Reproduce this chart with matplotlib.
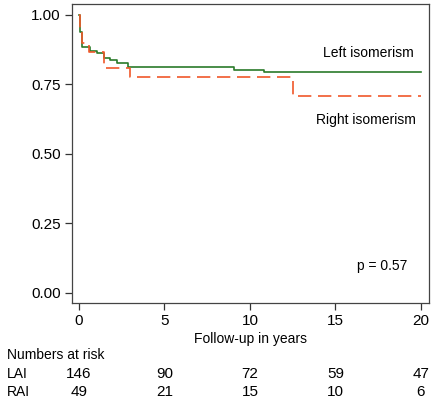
import numpy as np
import matplotlib
matplotlib.use("Agg")
import matplotlib.pyplot as plt
import matplotlib.transforms as mtransforms

plt.rcParams['font.family'] = ['Liberation Sans', 'DejaVu Sans']

# Kaplan-Meier steps
lai_t = [0, 0.06, 0.2, 0.64, 1.03, 1.46, 1.8, 2.2, 2.87, 9.08, 10.84, 20]
lai_s = [1.0, 0.939, 0.883, 0.87, 0.861, 0.843, 0.835, 0.825, 0.813, 0.801, 0.792, 0.792]

rai_t = [0, 0.08, 0.16, 0.58, 1.46, 2.98, 12.5, 20]
rai_s = [1.0, 0.95, 0.897, 0.867, 0.807, 0.775, 0.708, 0.708]

risk_times = [0, 5, 10, 15, 20]
risk_lai = [146, 90, 72, 59, 47]
risk_rai = [49, 21, 15, 10, 6]

fig = plt.figure(figsize=(4.4, 4.01), dpi=100)
ax = fig.add_axes([0.1636, 0.245, 0.975 - 0.1636, 0.990 - 0.245])

green = '#2a7a2a'
orange = '#f0582a'
ax.plot(lai_t, lai_s, drawstyle='steps-post', color=green, lw=1.2)
ax.plot(rai_t, rai_s, drawstyle='steps-post', color=orange, lw=1.2, dashes=(8, 4))

ax.set_xlim(-0.41, 20.47)
ax.set_ylim(-0.036, 1.038)
ax.set_xticks(risk_times)
ax.set_yticks([0, 0.25, 0.5, 0.75, 1.0])
ax.set_yticklabels(['0.00', '0.25', '0.50', '0.75', '1.00'])
ax.tick_params(labelsize=11, length=5, width=0.9, color='#333333', pad=3)
for sp in ax.spines.values():
    sp.set_color('#444444')
    sp.set_linewidth(0.9)

ax.set_xlabel('Follow-up in years', fontsize=10, labelpad=3)

ax.text(19.6, 0.863, 'Left isomerism', fontsize=10, ha='right', va='center')
ax.text(19.7, 0.62, 'Right isomerism', fontsize=10, ha='right', va='center')
ax.text(19.2, 0.095, 'p = 0.57', fontsize=10, ha='right', va='center')

# numbers at risk table below the axes
trans = mtransforms.blended_transform_factory(ax.transData, fig.transFigure)
fig.text(7 / 440, 1 - 355 / 401, 'Numbers at risk', fontsize=10, ha='left', va='center')
fig.text(7 / 440, 1 - 374 / 401, 'LAI', fontsize=10, ha='left', va='center')
fig.text(7 / 440, 1 - 392 / 401, 'RAI', fontsize=10, ha='left', va='center')
for t, a, b in zip(risk_times, risk_lai, risk_rai):
    ax.text(t, 1 - 374 / 401, str(a), fontsize=11, ha='center', va='center', transform=trans)
    ax.text(t, 1 - 392 / 401, str(b), fontsize=11, ha='center', va='center', transform=trans)

fig.savefig('out.png', dpi=100)
